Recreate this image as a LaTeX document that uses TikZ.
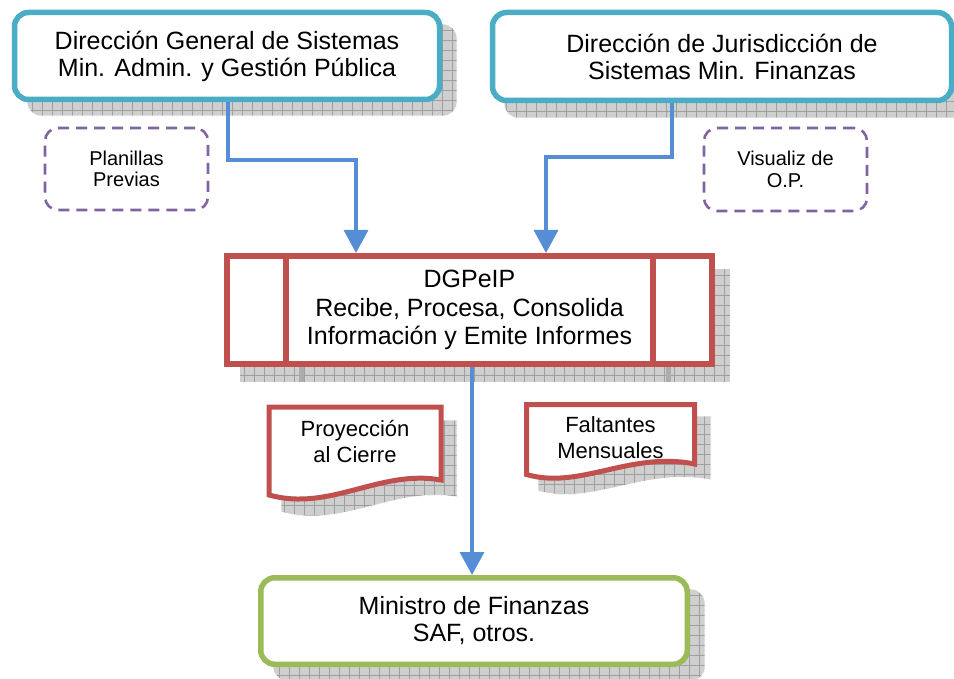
\documentclass[tikz,border=0pt]{standalone}
\usepackage{fontspec}
\setmainfont{Liberation Sans}
\usetikzlibrary{arrows.meta}
\definecolor{cyanb}{HTML}{4BACC6}
\definecolor{redb}{HTML}{C0504D}
\definecolor{greenb}{HTML}{9BBB59}
\definecolor{purpb}{HTML}{8064A2}
\definecolor{bluec}{HTML}{558ED5}
\begin{document}
\begin{tikzpicture}[x=1pt,y=-1pt,
  shadowfill/.style={fill=gray!38, draw=white, line width=0.6pt,
    path picture={\draw[gray!75, line width=0.45pt, step=10pt]
      (path picture bounding box.south west) grid (path picture bounding box.north east);}},
  shadownode/.style={shadowfill, inner sep=0pt},
  cbox/.style={draw=cyanb, line width=5.5pt, fill=white, rounded corners=14pt,
    align=center, inner sep=0pt, font=\fontsize{25}{27}\selectfont},
  gbox/.style={cbox, draw=greenb},
  rbox/.style={draw=redb, line width=6pt, fill=white, align=center, inner sep=0pt,
    font=\fontsize{25}{28.5}\selectfont},
  redline/.style={draw=redb, line width=6pt},
  dbox/.style={draw=purpb, line width=2.6pt, dash pattern=on 11pt off 7pt,
    rounded corners=13pt, fill=white, align=center, inner sep=0pt,
    font=\fontsize{20}{21.5}\selectfont},
  doctext/.style={align=center, inner sep=0pt, font=\fontsize{22}{26}\selectfont},
  conn/.style={draw=bluec, line width=3.5pt, -{Triangle[width=24pt,length=23pt]}}
]
\useasboundingbox (0,0) rectangle (954,679);

% ---------- shadows ----------
\node[shadownode, rounded corners=14pt, minimum width=430pt, minimum height=92pt] (s1) at (242,70) {};
\node[shadownode, rounded corners=14pt, minimum width=464pt, minimum height=93pt] (s2) at (736,71.5) {};
\node[shadownode, minimum width=491pt, minimum height=114pt] (s3) at (484.5,325) {};
\draw[gray!65, line width=5pt] (301,367) -- (301,382);
\draw[gray!65, line width=5pt] (668,367) -- (668,382);
\node[shadownode, rounded corners=14pt, minimum width=432pt, minimum height=92pt] (s4) at (489,635) {};
\path[shadowfill, shift={(14,15)}] (267,405) -- (443,405) -- (443,482)
   .. controls (380,471) and (330,514) .. (267,497) -- cycle;
\path[shadowfill, shift={(14,14)}] (524,402) -- (697,402) -- (697,466)
   .. controls (630,453) and (580,492) .. (524,477) -- cycle;

% ---------- main boxes ----------
\node[cbox, minimum width=425pt, minimum height=87pt] (b1) at (227,56)
  {Dirección General de Sistemas\\Min. Admin. y Gestión Pública};
\node[cbox, minimum width=459pt, minimum height=88pt] (b2) at (722,56.5)
  {Dirección de Jurisdicción de\\Sistemas Min. Finanzas};

\node[dbox, minimum width=163pt, minimum height=82pt] (p1) at (126.5,169)
  {Planillas\\Previas};
\node[dbox, minimum width=163pt, minimum height=83pt] (p2) at (785.5,169.5)
  {Visualiz de\\O.P.};

\node[rbox, minimum width=485pt, minimum height=108pt] (dg) at (469.5,310)
  {DGPeIP\\Recibe, Procesa, Consolida\\Información y Emite Informes};
\coordinate (d1) at (286,0);
\coordinate (d2) at (653,0);
\draw[redline] (dg.north -| d1) -- (dg.south -| d1);
\draw[redline] (dg.north -| d2) -- (dg.south -| d2);

% documents
\draw[draw=redb, line width=5pt, fill=white] (269,407) -- (441,407) -- (441,480)
   .. controls (380,469) and (330,512) .. (269,495) -- cycle;
\node[doctext] (t1) at (355,442) {Proyección\\al Cierre};
\draw[draw=redb, line width=5pt, fill=white] (526.5,404.5) -- (694.5,404.5) -- (694.5,464)
   .. controls (630,451) and (580,490) .. (526.5,474.5) -- cycle;
\begin{scope}
  \clip (528,406) rectangle (692,459);
  \node[doctext] (t2) at (610.5,437.5) {Faltantes\\Mensuales};
\end{scope}

\node[gbox, minimum width=426.5pt, minimum height=86.5pt] (mf) at (474,621)
  {Ministro de Finanzas\\SAF, otros.};

% ---------- connectors ----------
\coordinate (k1) at (228,0);
\coordinate (k2) at (356,160);
\coordinate (k3) at (672,0);
\coordinate (k4) at (546,157);
\coordinate (k5) at (472,0);
\draw[conn] (b1.south -| k1) |- (k2) -- (dg.north -| k2);
\draw[conn] (b2.south -| k3) |- (k4) -- (dg.north -| k4);
\draw[conn] (dg.south -| k5) -- (mf.north -| k5);
\end{tikzpicture}
\end{document}
